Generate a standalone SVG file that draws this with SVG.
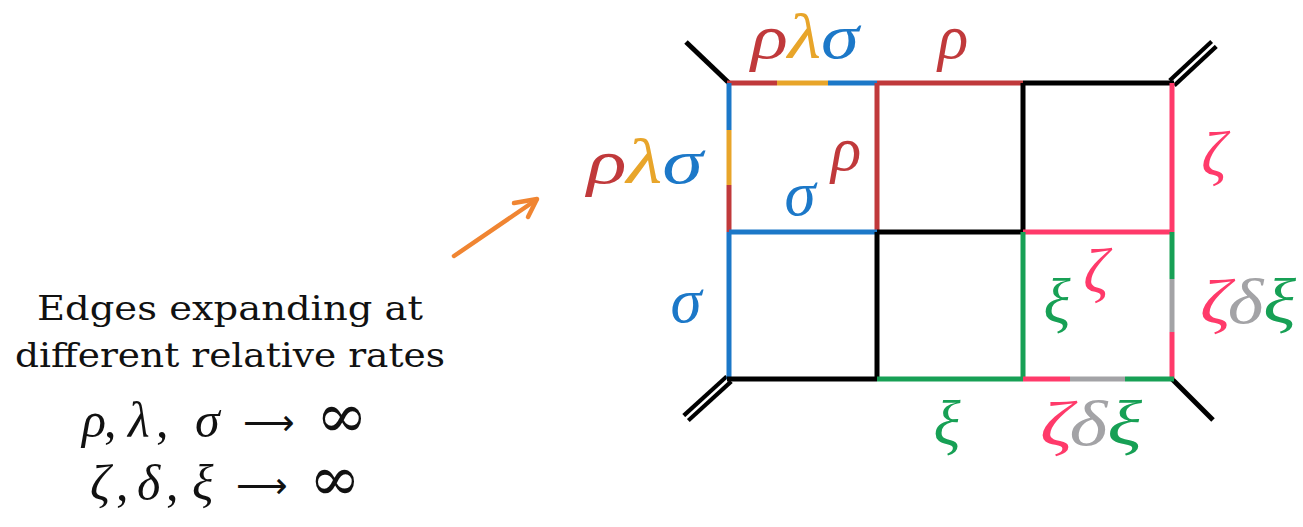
<svg xmlns="http://www.w3.org/2000/svg" width="1303" height="527" viewBox="0 0 1303 527">
<style>
.e{stroke-width:5;stroke-linecap:butt;fill:none}
.k{stroke:#000}.r{stroke:#C0393B}.o{stroke:#E8A52A}.b{stroke:#1C78C8}.p{stroke:#FF3A6A}.g{stroke:#17A055}.y{stroke:#A3A3A6}
.lab{font-family:"Liberation Serif","DejaVu Serif",serif;font-style:italic;font-size:63px;text-anchor:middle}
.fr{fill:#C0393B}.fo{fill:#E8A52A}.fb{fill:#1C78C8}.fp{fill:#FF3A6A}.fg{fill:#17A055}.fy{fill:#A3A3A6}
.cap{font-family:"DejaVu Serif","Liberation Serif",serif;font-size:34px;text-anchor:middle;fill:#111}
.m{font-family:"Liberation Serif","DejaVu Serif",serif;font-size:50px;fill:#111}
.mi{font-style:italic}
.ar{font-family:"DejaVu Sans",sans-serif;font-size:36px}
.inf{font-family:"DejaVu Serif",serif;font-size:62px}
</style>
<rect width="1303" height="527" fill="#fff"/>
<g id="legs">
<line class="e k" x1="729" y1="83" x2="686" y2="42"/>
<line class="e k" x1="1172" y1="379" x2="1213" y2="420"/>
<g id="leg-tr">
<line x1="1172" y1="83" x2="1214" y2="44" stroke="#000" stroke-width="11"/>
<line x1="1172" y1="83" x2="1216" y2="42" stroke="#fff" stroke-width="2.5"/>
</g>
<g id="leg-bl">
<line x1="729" y1="379" x2="686" y2="418" stroke="#000" stroke-width="11"/>
<line x1="731" y1="377" x2="684" y2="420" stroke="#fff" stroke-width="2.5"/>
</g>
</g>
<g id="connectors">
<line class="e r" x1="727" y1="83" x2="777" y2="83"/>
<line class="e o" x1="777" y1="83" x2="828" y2="83"/>
<line class="e b" x1="828" y1="83" x2="877" y2="83"/>
<line class="e r" x1="877" y1="83" x2="1023" y2="83"/>
<line class="e k" x1="1023" y1="83" x2="1174" y2="83"/>
<line class="e b" x1="729" y1="83" x2="729" y2="130"/>
<line class="e o" x1="729" y1="130" x2="729" y2="185"/>
<line class="e r" x1="729" y1="185" x2="729" y2="232"/>
<line class="e r" x1="877" y1="83" x2="877" y2="232"/>
<line class="e k" x1="1023" y1="83" x2="1023" y2="232"/>
<line class="e p" x1="1172" y1="83" x2="1172" y2="232"/>
<line class="e b" x1="729" y1="232" x2="877" y2="232"/>
<line class="e k" x1="877" y1="232" x2="1023" y2="232"/>
<line class="e p" x1="1023" y1="232" x2="1172" y2="232"/>
<line class="e b" x1="729" y1="232" x2="729" y2="379"/>
<line class="e k" x1="877" y1="232" x2="877" y2="379"/>
<line class="e g" x1="1023" y1="232" x2="1023" y2="379"/>
<line class="e g" x1="1172" y1="232" x2="1172" y2="279"/>
<line class="e y" x1="1172" y1="279" x2="1172" y2="332"/>
<line class="e p" x1="1172" y1="332" x2="1172" y2="379"/>
<line class="e k" x1="727" y1="379" x2="877" y2="379"/>
<line class="e g" x1="877" y1="379" x2="1023" y2="379"/>
<line class="e p" x1="1023" y1="379" x2="1070" y2="379"/>
<line class="e y" x1="1070" y1="379" x2="1125" y2="379"/>
<line class="e g" x1="1125" y1="379" x2="1174" y2="379"/>
</g>
<g id="labels">
<text class="lab" x="805" y="58" textLength="108" lengthAdjust="spacingAndGlyphs"><tspan class="fr">ρ</tspan><tspan class="fo">λ</tspan><tspan class="fb">σ</tspan></text>
<text class="lab fr" x="953" y="58">ρ</text>
<text class="lab" x="645" y="183" textLength="116" lengthAdjust="spacingAndGlyphs"><tspan class="fr">ρ</tspan><tspan class="fo">λ</tspan><tspan class="fb">σ</tspan></text>
<text class="lab fb" x="800" y="215">σ</text>
<text class="lab fr" x="846" y="170">ρ</text>
<text class="lab fb" x="686" y="322">σ</text>
<text class="lab fp" x="1214" y="175">ζ</text>
<text class="lab fg" x="1057" y="323">ξ</text>
<text class="lab fp" x="1096" y="292">ζ</text>
<text class="lab" x="1248" y="323" textLength="96" lengthAdjust="spacingAndGlyphs"><tspan class="fp">ζ</tspan><tspan class="fy">δ</tspan><tspan class="fg">ξ</tspan></text>
<text class="lab fg" x="947" y="445">ξ</text>
<text class="lab" x="1091" y="445" textLength="102" lengthAdjust="spacingAndGlyphs"><tspan class="fp">ζ</tspan><tspan class="fy">δ</tspan><tspan class="fg">ξ</tspan></text>
</g>
<g id="arrow" stroke="#F08532" stroke-width="4.5" stroke-linecap="round" stroke-linejoin="round" fill="none">
<line x1="454" y1="256" x2="536" y2="200"/>
<polyline points="514,203 537,199 528,217"/>
</g>
<g id="caption">
<text class="cap" x="230" y="320" textLength="386" lengthAdjust="spacingAndGlyphs">Edges expanding at</text>
<text class="cap" x="230" y="367" textLength="430" lengthAdjust="spacingAndGlyphs">different relative rates</text>
<text class="m" y="437"><tspan class="mi" x="82">ρ</tspan><tspan x="104">,</tspan><tspan class="mi" x="128">λ</tspan><tspan x="156">,</tspan><tspan class="mi" x="195">σ</tspan><tspan class="ar" x="243" dy="-2">⟶</tspan><tspan class="inf" x="316" dy="2">∞</tspan></text>
<text class="m" y="500"><tspan class="mi" x="90">ζ</tspan><tspan x="116">,</tspan><tspan class="mi" x="137">δ</tspan><tspan x="166">,</tspan><tspan class="mi" x="192">ξ</tspan><tspan class="ar" x="236" dy="-2">⟶</tspan><tspan class="inf" x="309" dy="2">∞</tspan></text>
</g>
</svg>
